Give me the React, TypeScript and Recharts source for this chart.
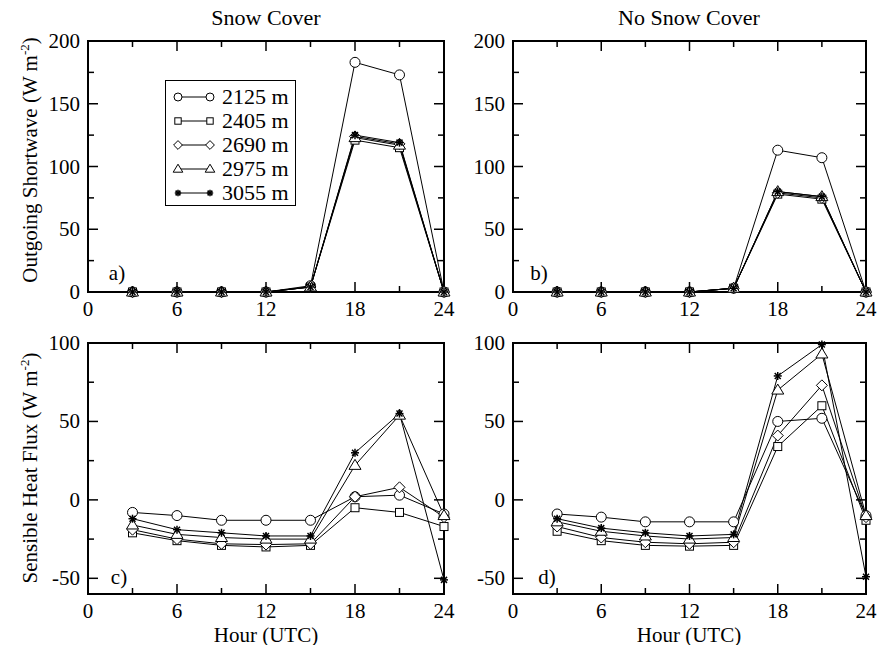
import React from "react";
import { LineChart, Line, XAxis, YAxis, ReferenceArea, Legend } from "recharts";

const hours = [3, 6, 9, 12, 15, 18, 21, 24];
const elevations = ["2125 m", "2405 m", "2690 m", "2975 m", "3055 m"];
const markerKinds = ["circle", "square", "diamond", "triangle", "star"];

const xTicks = [0, 3, 6, 9, 12, 15, 18, 21, 24];
const swTicks = [0, 25, 50, 75, 100, 125, 150, 175, 200];
const shTicks = [-50, -25, 0, 25, 50, 75, 100];

// one row per elevation, values at 3,6,...,24 UTC
const swSnow = [
  [0, 0, 0, 0, 5, 183, 173, 0],
  [0, 0, 0, 0, 4, 121, 115, 0],
  [0, 0, 0, 0, 4, 124, 118, 0],
  [0, 0, 0, 0, 4, 123, 117, 0],
  [0, 0, 0, 0, 4, 125, 119, 0],
];
const swNoSnow = [
  [0, 0, 0, 0, 3, 113, 107, 0],
  [0, 0, 0, 0, 3, 78, 74, 0],
  [0, 0, 0, 0, 3, 79, 75, 0],
  [0, 0, 0, 0, 3, 80, 76, 0],
  [0, 0, 0, 0, 3, 80, 76, 0],
];
const shSnow = [
  [-8, -10, -13, -13, -13, 2, 3, -9],
  [-21, -26, -29, -30, -29, -5, -8, -17],
  [-19, -25, -28, -28.5, -28, 2, 8, -11],
  [-16, -22, -24, -25, -25, 22, 54, -10],
  [-12, -19, -21, -23, -23, 30, 55, -51],
];
const shNoSnow = [
  [-9, -11, -14, -14, -14, 50, 52, -10],
  [-20, -26, -29, -29.5, -29, 34, 60, -13],
  [-17, -24, -27, -28, -27, 41, 73, -11],
  [-14, -20, -23, -25, -24, 70, 93, -10],
  [-12, -18, -21, -23, -22, 79, 99, -49],
];

const FONT = "Liberation Serif";
const X_AXIS_H = 30;
const Y_AXIS_W = 40;

const Marker = ({ kind, cx, cy, k = 1 }: any) => {
  if (cx == null || cy == null) return null;
  const s = { fill: "#fff", stroke: "#000", strokeWidth: 1 };
  const r = 5 * k;
  switch (kind) {
    case "circle":
      return <circle cx={cx} cy={cy} r={r} {...s} />;
    case "square":
      return <rect x={cx - 0.8 * r} y={cy - 0.8 * r} width={1.6 * r} height={1.6 * r} {...s} />;
    case "diamond":
      return (
        <polygon
          points={`${cx},${cy - 1.1 * r} ${cx + 1.1 * r},${cy} ${cx},${cy + 1.1 * r} ${cx - 1.1 * r},${cy}`}
          {...s}
        />
      );
    case "triangle":
      return (
        <polygon
          points={`${cx},${cy - 1.2 * r} ${cx + 1.2 * r},${cy + 0.8 * r} ${cx - 1.2 * r},${cy + 0.8 * r}`}
          {...s}
        />
      );
    default: {
      const a = 0.8 * r;
      const b = 0.6 * r;
      return (
        <g stroke="#000" strokeWidth={1.5}>
          <line x1={cx} y1={cy - a} x2={cx} y2={cy + a} />
          <line x1={cx - a} y1={cy} x2={cx + a} y2={cy} />
          <line x1={cx - b} y1={cy - b} x2={cx + b} y2={cy + b} />
          <line x1={cx - b} y1={cy + b} x2={cx + b} y2={cy - b} />
        </g>
      );
    }
  }
};

const LegendBox = ({ payload }: any) => (
  <div
    style={{
      width: 131,
      height: 126,
      boxSizing: "border-box",
      border: "1.5px solid #000",
      background: "#fff",
      paddingTop: 4,
      fontFamily: FONT,
      fontSize: 22,
      color: "#000",
    }}
  >
    {(payload || []).map((e: any, i: number) => (
      <div key={i} style={{ display: "flex", alignItems: "center", height: 24 }}>
        <svg width={54} height={16}>
          <line x1={12} y1={8} x2={44} y2={8} stroke="#000" />
          <Marker kind={markerKinds[i]} cx={12} cy={8} k={0.8} />
          <Marker kind={markerKinds[i]} cx={44} cy={8} k={0.8} />
        </svg>
        <span style={{ marginLeft: 2, lineHeight: 1 }}>{e.value}</span>
      </div>
    ))}
  </div>
);

// plot box given in chart pixels: left, top, right, bottom
function Panel({ rows, yDomain, yTicks, width, height, box, legend }: any) {
  const data = hours.map((hour, i) => {
    const r: any = { hour };
    rows.forEach((s: number[], k: number) => (r["s" + k] = s[i]));
    return r;
  });
  const { left, top, right, bottom } = box;
  const margin = {
    top,
    left: left - Y_AXIS_W,
    right: width - right,
    bottom: height - bottom - X_AXIS_H,
  };

  const XTick = (p: any) => {
    const v = p.payload.value;
    const x = p.x;
    const major = v % 6 === 0;
    const len = major ? 10 : 6;
    return (
      <g>
        {v > 0 && v < 24 && (
          <g stroke="#000" strokeWidth={1.5}>
            <line x1={x} x2={x} y1={bottom} y2={bottom - len} />
            <line x1={x} x2={x} y1={top} y2={top + len} />
          </g>
        )}
        {major && (
          <text x={x} y={bottom + 24} textAnchor="middle" fontFamily={FONT} fontSize={21} fill="#000" stroke="none">
            {v}
          </text>
        )}
      </g>
    );
  };

  const YTick = (p: any) => {
    const v = p.payload.value;
    const y = p.y;
    const major = v % 50 === 0;
    const len = major ? 10 : 6;
    const edge = v === yDomain[0] || v === yDomain[1];
    return (
      <g>
        {!edge && (
          <g stroke="#000" strokeWidth={1.5}>
            <line x1={left} x2={left + len} y1={y} y2={y} />
            <line x1={right} x2={right - len} y1={y} y2={y} />
          </g>
        )}
        {major && (
          <text x={left - 8} y={y + 7} textAnchor="end" fontFamily={FONT} fontSize={21} fill="#000" stroke="none">
            {v}
          </text>
        )}
      </g>
    );
  };

  return (
    <LineChart width={width} height={height} data={data} margin={margin}>
      <XAxis
        type="number"
        dataKey="hour"
        domain={[0, 24]}
        ticks={xTicks}
        interval={0}
        height={X_AXIS_H}
        axisLine={false}
        tickLine={false}
        tick={XTick}
      />
      <YAxis
        type="number"
        domain={yDomain}
        ticks={yTicks}
        interval={0}
        width={Y_AXIS_W}
        axisLine={false}
        tickLine={false}
        tick={YTick}
      />
      <ReferenceArea
        x1={0}
        x2={24}
        y1={yDomain[0]}
        y2={yDomain[1]}
        fill="none"
        fillOpacity={0}
        stroke="#000"
        strokeWidth={2}
      />
      {rows.map((_: any, k: number) => (
        <Line
          key={k}
          type="linear"
          dataKey={"s" + k}
          name={elevations[k]}
          stroke="#000"
          strokeWidth={1}
          dot={(p: any) => <Marker key={"d" + k + "-" + p.index} kind={markerKinds[k]} cx={p.cx} cy={p.cy} />}
          isAnimationActive={false}
        />
      ))}
      {legend && (
        <Legend
          layout="vertical"
          align="center"
          verticalAlign="middle"
          wrapperStyle={{ left: 165, top: 80, width: 131, height: 126 }}
          content={(props: any) => <LegendBox payload={props.payload} />}
        />
      )}
    </LineChart>
  );
}

const abs = (left: number, top: number, extra: any = {}) => ({
  position: "absolute" as const,
  left,
  top,
  transform: "translate(-50%, -50%)",
  whiteSpace: "nowrap" as const,
  lineHeight: 1,
  fontSize: 21,
  fontFamily: FONT,
  ...extra,
});

export default function App() {
  return (
    <div
      style={{
        position: "absolute",
        left: 0,
        top: 0,
        width: 878,
        height: 645,
        background: "#fff",
        fontFamily: FONT,
        color: "#000",
        overflow: "hidden",
      }}
    >
      <div style={{ position: "absolute", left: 0, top: 0 }}>
        <Panel
          rows={swSnow}
          yDomain={[0, 200]}
          yTicks={swTicks}
          width={460}
          height={330}
          box={{ left: 88, top: 41, right: 444, bottom: 292 }}
          legend
        />
      </div>
      <div style={{ position: "absolute", left: 460, top: 0 }}>
        <Panel
          rows={swNoSnow}
          yDomain={[0, 200]}
          yTicks={swTicks}
          width={418}
          height={330}
          box={{ left: 53, top: 41, right: 406, bottom: 292 }}
        />
      </div>
      <div style={{ position: "absolute", left: 0, top: 330 }}>
        <Panel
          rows={shSnow}
          yDomain={[-60, 100]}
          yTicks={shTicks}
          width={460}
          height={315}
          box={{ left: 88, top: 13, right: 444, bottom: 264 }}
        />
      </div>
      <div style={{ position: "absolute", left: 460, top: 330 }}>
        <Panel
          rows={shNoSnow}
          yDomain={[-60, 100]}
          yTicks={shTicks}
          width={418}
          height={315}
          box={{ left: 53, top: 13, right: 406, bottom: 264 }}
        />
      </div>

      <div style={abs(266, 18, { fontSize: 22 })}>Snow Cover</div>
      <div style={abs(689, 18, { fontSize: 22 })}>No Snow Cover</div>
      <div style={abs(266, 635)}>Hour (UTC)</div>
      <div style={abs(689, 635)}>Hour (UTC)</div>
      <div style={abs(29, 160, { transform: "translate(-50%, -50%) rotate(-90deg)" })}>
        Outgoing Shortwave (W m<sup style={{ fontSize: 13 }}>-2</sup>)
      </div>
      <div style={abs(29, 468, { transform: "translate(-50%, -50%) rotate(-90deg)" })}>
        Sensible Heat Flux (W m<sup style={{ fontSize: 13 }}>-2</sup>)
      </div>
      <div style={abs(117, 273)}>a)</div>
      <div style={abs(539, 273)}>b)</div>
      <div style={abs(119, 577)}>c)</div>
      <div style={abs(547, 577)}>d)</div>
    </div>
  );
}
